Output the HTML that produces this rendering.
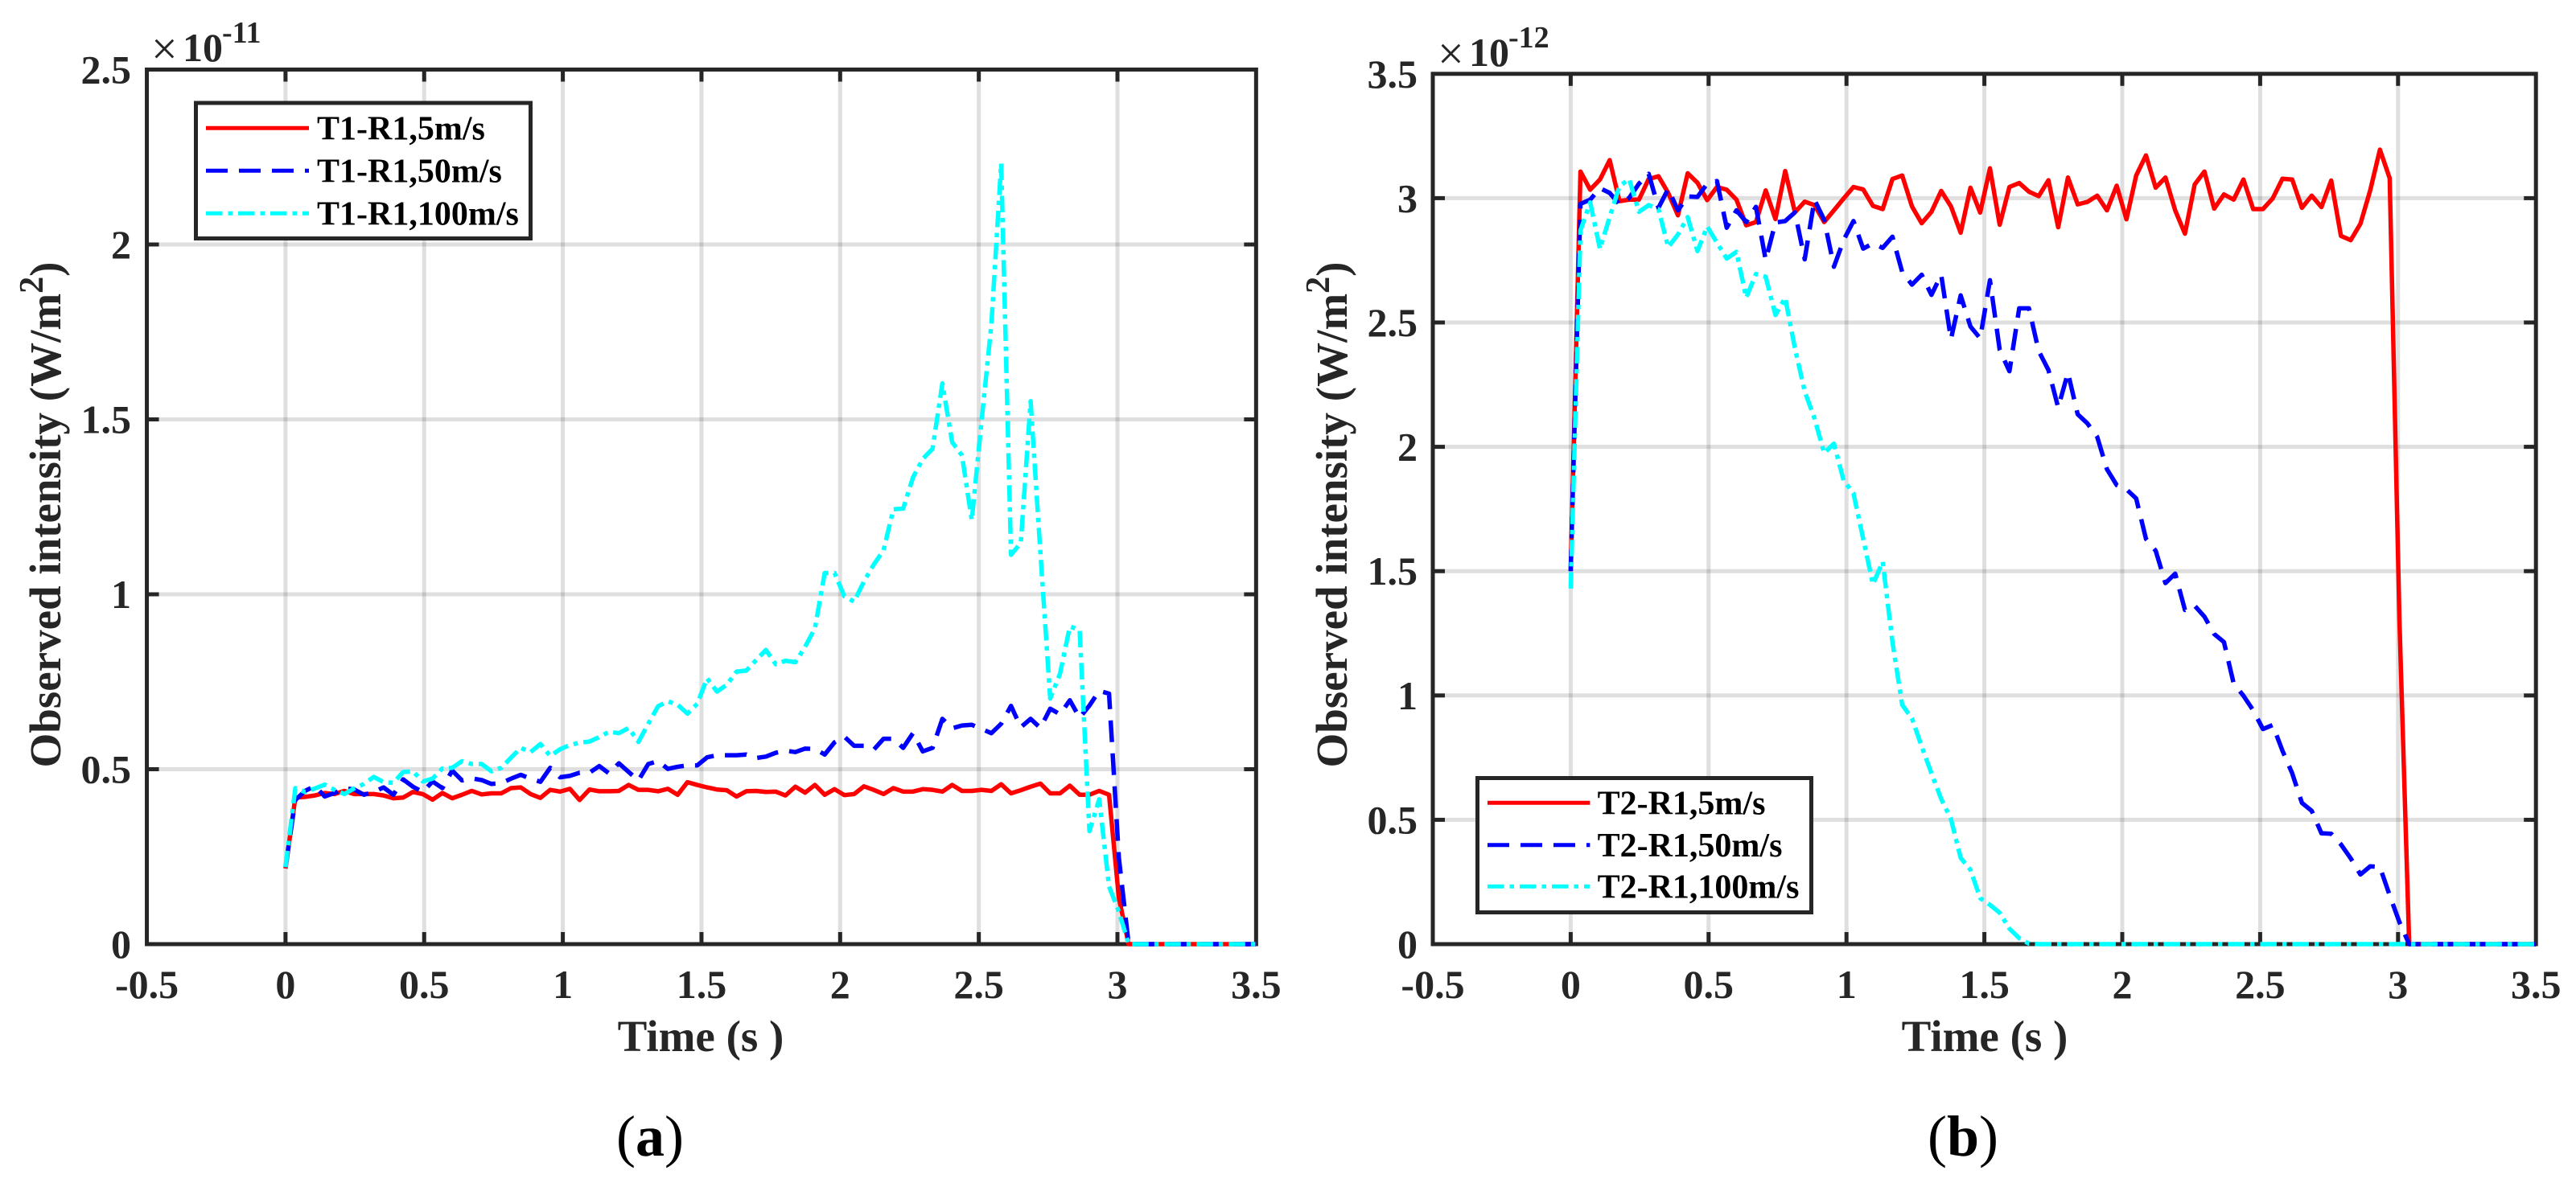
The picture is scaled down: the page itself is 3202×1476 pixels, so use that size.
<!DOCTYPE html>
<html lang="en">
<head>
<meta charset="utf-8">
<title>Observed intensity vs time</title>
<style>
html,body{margin:0;padding:0;background:#fff;}
svg{display:block;}
text{font-family:"Liberation Serif",serif;}
</style>
</head>
<body>
<svg id="figure" xmlns="http://www.w3.org/2000/svg" width="3202" height="1476" viewBox="0 0 3202 1476">
  <rect x="0" y="0" width="3202" height="1476" fill="#fff"/>

  <g id="panel-a">
    <g id="a-grid"></g>
    <g id="a-axes"></g>
    <g id="a-series"></g>
    <text x="871" y="1307" font-size="55" font-weight="bold" fill="#262626" text-anchor="middle" xml:space="preserve">Time (s )</text>
    <text transform="translate(75,640) rotate(-90)" font-size="55" font-weight="bold" fill="#262626" text-anchor="middle">Observed intensity (W/m<tspan font-size="42" dy="-22">2</tspan><tspan dy="22">)</tspan></text>
    <g fill="#262626">
      <text x="188" y="80" font-size="58">×</text>
      <text x="227" y="76" font-size="50" font-weight="bold">10</text>
      <text x="276" y="53" font-size="38" font-weight="bold">-11</text>
    </g>
    <g>
      <rect x="243.5" y="128" width="416" height="168.5" fill="#fff" stroke="#262626" stroke-width="5"/>
      <g>
        <line x1="256" x2="384" y1="159.3" y2="159.3" stroke="#f00" stroke-width="5"/>
        <text x="394" y="173.3" font-size="42" font-weight="bold" fill="#000">T1-R1,5m/s</text>
      </g>
      <g>
        <line x1="256" x2="384" y1="212.3" y2="212.3" stroke="#00f" stroke-width="5" stroke-dasharray="27 14"/>
        <text x="394" y="226.7" font-size="42" font-weight="bold" fill="#000">T1-R1,50m/s</text>
      </g>
      <g>
        <line x1="256" x2="384" y1="265.3" y2="265.3" stroke="#0ff" stroke-width="5" stroke-dasharray="20.5 7 5.5 7"/>
        <text x="394" y="279.3" font-size="42" font-weight="bold" fill="#000">T1-R1,100m/s</text>
      </g>
    </g>
    <text x="808" y="1437" font-size="72" fill="#000" text-anchor="middle">(<tspan font-weight="bold">a</tspan>)</text>
  </g>

  <g id="panel-b">
    <g id="b-grid"></g>
    <g id="b-axes"></g>
    <g id="b-series"></g>
    <text x="2467" y="1307" font-size="55" font-weight="bold" fill="#262626" text-anchor="middle" xml:space="preserve">Time (s )</text>
    <text transform="translate(1674,640) rotate(-90)" font-size="55" font-weight="bold" fill="#262626" text-anchor="middle">Observed intensity (W/m<tspan font-size="42" dy="-22">2</tspan><tspan dy="22">)</tspan></text>
    <g fill="#262626">
      <text x="1787" y="86" font-size="58">×</text>
      <text x="1826" y="82" font-size="50" font-weight="bold">10</text>
      <text x="1875" y="59" font-size="38" font-weight="bold">-12</text>
    </g>
    <g>
      <rect x="1836.5" y="967.5" width="415" height="167" fill="#fff" stroke="#262626" stroke-width="5"/>
      <g>
        <line x1="1849" x2="1976.4" y1="998.3" y2="998.3" stroke="#f00" stroke-width="5"/>
        <text x="1985.6" y="1012.7" font-size="42" font-weight="bold" fill="#000">T2-R1,5m/s</text>
      </g>
      <g>
        <line x1="1849" x2="1976.4" y1="1050.7" y2="1050.7" stroke="#00f" stroke-width="5" stroke-dasharray="27 14"/>
        <text x="1985.6" y="1065" font-size="42" font-weight="bold" fill="#000">T2-R1,50m/s</text>
      </g>
      <g>
        <line x1="1849" x2="1976.4" y1="1102.3" y2="1102.3" stroke="#0ff" stroke-width="5" stroke-dasharray="20.5 7 5.5 7"/>
        <text x="1985.6" y="1116.7" font-size="42" font-weight="bold" fill="#000">T2-R1,100m/s</text>
      </g>
    </g>
    <text x="2440" y="1437" font-size="72" fill="#000" text-anchor="middle">(<tspan font-weight="bold">b</tspan>)</text>
  </g>
</svg>

<script>
const times = [
0,0.0354,0.0707,0.1061,0.1414,0.1768,0.2121,0.2475,0.2828,0.3182,
0.3535,0.3889,0.4242,0.4596,0.4949,0.5303,0.5657,0.6010,0.6364,0.6717,
0.7071,0.7424,0.7778,0.8131,0.8485,0.8838,0.9192,0.9545,0.9899,1.0253,
1.0606,1.0960,1.1313,1.1667,1.2020,1.2374,1.2727,1.3081,1.3434,1.3788,
1.4141,1.4495,1.4848,1.5202,1.5556,1.5909,1.6263,1.6616,1.6970,1.7323,
1.7677,1.8030,1.8384,1.8737,1.9091,1.9444,1.9798,2.0152,2.0505,2.0859,
2.1212,2.1566,2.1919,2.2273,2.2626,2.2980,2.3333,2.3687,2.4040,2.4394,
2.4747,2.5101,2.5455,2.5808,2.6162,2.6515,2.6869,2.7222,2.7576,2.7929,
2.8283,2.8636,2.8990,2.9343,2.9697,3.0051,3.0404,3.0758,3.1111,3.1465,
3.1818,3.2172,3.2525,3.2879,3.3232,3.3586,3.3939,3.4293,3.4646,3.5000
];

/* Panel (a), values in units of 1e-11 W/m^2 */
const a5 = [
0.216,0.419,0.421,0.425,0.432,0.429,0.438,0.429,0.429,0.429,
0.425,0.417,0.419,0.435,0.429,0.413,0.432,0.417,0.427,0.438,
0.428,0.431,0.431,0.446,0.448,0.429,0.418,0.441,0.436,0.444,
0.412,0.442,0.437,0.437,0.438,0.455,0.441,0.441,0.437,0.444,
0.427,0.463,0.455,0.448,0.442,0.440,0.422,0.437,0.438,0.435,
0.436,0.425,0.450,0.433,0.455,0.427,0.443,0.426,0.429,0.451,
0.441,0.429,0.446,0.436,0.436,0.443,0.441,0.436,0.455,0.438,
0.438,0.441,0.438,0.457,0.431,0.440,0.450,0.459,0.431,0.431,
0.453,0.427,0.427,0.438,0.427,0.132,0,0,0,0,
0,0,0,0,0,0,0,0,0,0
];
const a50 = [
0.22,0.412,0.438,0.452,0.422,0.432,0.446,0.442,0.427,0.435,
0.448,0.427,0.471,0.450,0.435,0.465,0.446,0.496,0.468,0.474,
0.469,0.458,0.460,0.473,0.484,0.473,0.464,0.504,0.477,0.481,
0.490,0.490,0.509,0.488,0.517,0.492,0.468,0.515,0.523,0.501,
0.507,0.511,0.511,0.534,0.540,0.540,0.540,0.542,0.532,0.536,
0.547,0.553,0.549,0.559,0.558,0.542,0.577,0.593,0.567,0.567,
0.556,0.587,0.587,0.561,0.603,0.551,0.561,0.644,0.617,0.625,
0.627,0.615,0.603,0.630,0.681,0.620,0.644,0.618,0.673,0.657,
0.697,0.647,0.682,0.724,0.716,0.247,0,0,0,0,
0,0,0,0,0,0,0,0,0,0
];
const a100 = [
0.22,0.446,0.435,0.445,0.456,0.441,0.429,0.445,0.458,0.478,
0.463,0.461,0.492,0.494,0.465,0.473,0.502,0.504,0.523,0.515,
0.515,0.494,0.504,0.533,0.561,0.549,0.572,0.538,0.557,0.569,
0.576,0.579,0.592,0.607,0.603,0.618,0.578,0.630,0.680,0.694,
0.684,0.659,0.687,0.760,0.722,0.741,0.779,0.782,0.812,0.841,
0.800,0.810,0.806,0.850,0.903,1.061,1.061,0.994,0.979,1.037,
1.085,1.126,1.243,1.245,1.334,1.387,1.416,1.603,1.435,1.397,
1.212,1.496,1.772,2.232,1.113,1.147,1.552,1.118,0.702,0.773,
0.908,0.898,0.323,0.414,0.165,0.093,0,0,0,0,
0,0,0,0,0,0,0,0,0,0
];

/* Panel (b), values in units of 1e-12 W/m^2 */
const b5 = [
1.5,3.107,3.034,3.075,3.153,2.988,2.994,2.994,3.077,3.088,
3.021,2.931,3.100,3.062,2.992,3.045,3.034,2.994,2.891,2.904,
3.031,2.916,3.109,2.943,2.986,2.972,2.904,2.951,2.999,3.045,
3.035,2.969,2.956,3.077,3.091,2.967,2.899,2.945,3.029,2.967,
2.861,3.042,2.942,3.120,2.893,3.045,3.061,3.026,3.008,3.072,
2.883,3.083,2.975,2.985,3.010,2.951,3.050,2.915,3.091,3.172,
3.042,3.083,2.951,2.857,3.055,3.107,2.958,3.015,2.994,3.075,
2.956,2.956,2.999,3.078,3.075,2.961,3.010,2.964,3.071,2.848,
2.831,2.897,3.031,3.195,3.080,1.3,0,0,0,0,
0,0,0,0,0,0,0,0,0,0
];
const b50 = [
1.5,2.977,2.994,3.040,3.021,2.975,3.001,3.058,3.098,2.961,
3.037,2.951,3.007,3.005,3.058,3.069,2.881,2.951,2.904,2.965,
2.751,2.902,2.908,2.943,2.754,2.994,2.913,2.724,2.832,2.908,
2.797,2.818,2.800,2.845,2.703,2.652,2.692,2.611,2.692,2.433,
2.609,2.484,2.436,2.670,2.390,2.304,2.557,2.557,2.385,2.309,
2.158,2.298,2.131,2.094,2.040,1.910,1.846,1.829,1.792,1.630,
1.582,1.452,1.490,1.344,1.361,1.317,1.247,1.215,1.048,0.999,
0.940,0.865,0.881,0.778,0.687,0.568,0.536,0.446,0.444,0.401,
0.345,0.280,0.313,0.310,0.196,0.088,0,0,0,0,
0,0,0,0,0,0,0,0,0,0
];
const b100 = [
1.43,2.870,2.983,2.796,2.924,3.048,3.077,2.945,2.972,2.956,
2.803,2.854,2.924,2.787,2.886,2.821,2.757,2.784,2.600,2.695,
2.684,2.530,2.600,2.396,2.223,2.115,1.975,2.013,1.864,1.813,
1.630,1.447,1.538,1.215,0.962,0.908,0.795,0.687,0.584,0.503,
0.347,0.299,0.185,0.158,0.126,0.062,0.024,0.002,0,0,
0,0,0,0,0,0,0,0,0,0,
0,0,0,0,0,0,0,0,0,0,
0,0,0,0,0,0,0,0,0,0,
0,0,0,0,0,0,0,0,0,0,
0,0,0,0,0,0,0,0,0,0
];

const xTickValues = [-0.5,0,0.5,1,1.5,2,2.5,3,3.5];
const xTickLabels = ['-0.5','0','0.5','1','1.5','2','2.5','3','3.5'];
const aYTickValues = [0,0.5,1,1.5,2,2.5];
const aYTickLabels = ['0','0.5','1','1.5','2','2.5'];
const bYTickValues = [0,0.5,1,1.5,2,2.5,3,3.5];
const bYTickLabels = ['0','0.5','1','1.5','2','2.5','3','3.5'];

const NS = 'http://www.w3.org/2000/svg';
const AXIS_COLOR = '#262626';

function xScaleA(t){ return 354.9 + 344.7 * t; }
function yScaleA(v){ return 1174 - 435 * v; }
function xScaleB(t){ return 1952.4 + 342.8 * t; }
function yScaleB(v){ return 1174 - 309.2 * v; }

function makeLine(parent, x1, y1, x2, y2, color, width, opacity){
  const el = document.createElementNS(NS, 'line');
  el.setAttribute('x1', x1);
  el.setAttribute('y1', y1);
  el.setAttribute('x2', x2);
  el.setAttribute('y2', y2);
  el.setAttribute('stroke', color);
  el.setAttribute('stroke-width', width);
  if (opacity) el.setAttribute('stroke-opacity', opacity);
  parent.appendChild(el);
  return el;
}

function drawPanel(prefix, xScale, yScale, yTickValues, yTickLabels, yLabelRight){
  const grid = document.getElementById(prefix + '-grid');
  const axes = document.getElementById(prefix + '-axes');
  const left = xScale(-0.5), right = xScale(3.5);
  const bottom = yScale(0), top = yScale(yTickValues[yTickValues.length - 1]);

  xTickValues.forEach(function(t, i){
    const x = xScale(t);
    if (i > 0 && i < xTickValues.length - 1) {
      const g = makeLine(grid, x, top, x, bottom, AXIS_COLOR, 5, 0.15);
      
      
      const t1 = makeLine(axes, x, bottom, x, bottom - 15, AXIS_COLOR, 5);
      
      
      const t2 = makeLine(axes, x, top, x, top + 15, AXIS_COLOR, 5);
      
      
    }
    const label = document.createElementNS(NS, 'text');
    
    
    label.setAttribute('x', x);
    label.setAttribute('y', 1241);
    label.setAttribute('font-size', 50);
    label.setAttribute('font-weight', 'bold');
    label.setAttribute('fill', AXIS_COLOR);
    label.setAttribute('text-anchor', 'middle');
    label.textContent = xTickLabels[i];
    axes.appendChild(label);
  });

  yTickValues.forEach(function(v, i){
    const y = yScale(v);
    if (i > 0 && i < yTickValues.length - 1) {
      const g = makeLine(grid, left, y, right, y, AXIS_COLOR, 5, 0.15);
      
      
      const t1 = makeLine(axes, left, y, left + 15, y, AXIS_COLOR, 5);
      
      
      const t2 = makeLine(axes, right, y, right - 15, y, AXIS_COLOR, 5);
      
      
    }
    const label = document.createElementNS(NS, 'text');
    
    
    label.setAttribute('x', yLabelRight);
    label.setAttribute('y', y + 17);
    label.setAttribute('font-size', 50);
    label.setAttribute('font-weight', 'bold');
    label.setAttribute('fill', AXIS_COLOR);
    label.setAttribute('text-anchor', 'end');
    label.textContent = yTickLabels[i];
    axes.appendChild(label);
  });

  const box = document.createElementNS(NS, 'rect');
  
  
  box.setAttribute('x', left);
  box.setAttribute('y', top);
  box.setAttribute('width', right - left);
  box.setAttribute('height', bottom - top);
  box.setAttribute('fill', 'none');
  box.setAttribute('stroke', AXIS_COLOR);
  box.setAttribute('stroke-width', 5);
  axes.appendChild(box);
}

function drawSeries(prefix, name, values, xScale, yScale, color, dash){
  const parent = document.getElementById(prefix + '-series');
  const path = document.createElementNS(NS, 'path');
  const d = values.map(function(v, i){
    return (i === 0 ? 'M' : 'L') + xScale(times[i]).toFixed(2) + ' ' + yScale(v).toFixed(2);
  }).join(' ');
  path.setAttribute('d', d);
  
  
  path.setAttribute('fill', 'none');
  path.setAttribute('stroke', color);
  path.setAttribute('stroke-width', 5.5);
  path.setAttribute('stroke-linejoin', 'round');
  if (dash) path.setAttribute('stroke-dasharray', dash);
  parent.appendChild(path);
}

drawPanel('a', xScaleA, yScaleA, aYTickValues, aYTickLabels, 163);
drawPanel('b', xScaleB, yScaleB, bYTickValues, bYTickLabels, 1762);

drawSeries('a', 'a-series-5ms', a5, xScaleA, yScaleA, '#f00', null);
drawSeries('a', 'a-series-50ms', a50, xScaleA, yScaleA, '#00f', '27 14');
drawSeries('a', 'a-series-100ms', a100, xScaleA, yScaleA, '#0ff', '20.5 7 5.5 7');

drawSeries('b', 'b-series-5ms', b5, xScaleB, yScaleB, '#f00', null);
drawSeries('b', 'b-series-50ms', b50, xScaleB, yScaleB, '#00f', '27 14');
drawSeries('b', 'b-series-100ms', b100, xScaleB, yScaleB, '#0ff', '20.5 7 5.5 7');
</script>
</body>
</html>
